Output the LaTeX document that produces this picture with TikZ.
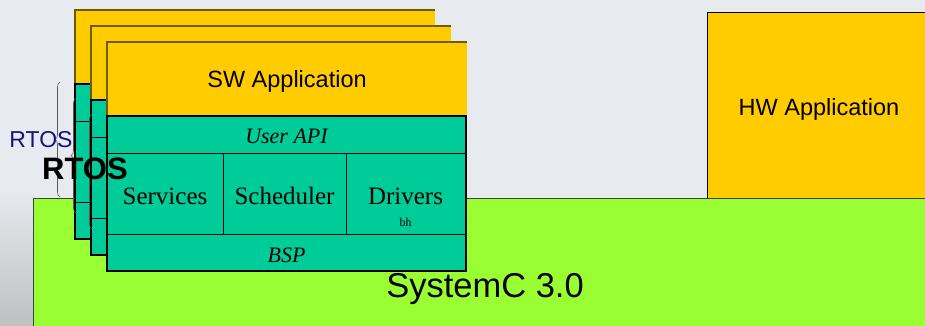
\documentclass[tikz,border=0pt]{standalone}
\usepackage{fontspec}
\setmainfont{Liberation Serif}
\setsansfont{Liberation Sans}
\usetikzlibrary{decorations.pathreplacing}

\definecolor{bgcol}{RGB}{231,234,238}
\definecolor{appyellow}{RGB}{255,204,0}
\definecolor{appedge}{RGB}{110,90,0}
\definecolor{rtosteal}{RGB}{0,204,153}
\definecolor{basegreen}{RGB}{153,255,51}
\definecolor{rtosnavy}{RGB}{20,20,120}

% one software stack: application on top of an RTOS
\newcommand\swstack[1]{%
  \begin{scope}[shift={(#1,#1)}]
    \draw[bracestyle] (92,229) -- (92,114);
    \fill[appyellow] (107,42) rectangle (467,116);
    \draw[appedge, line width=1.6] (107,116) -- (107,42) -- (467,42);
    \fill[rtosteal] (107,116) rectangle (466,271);
    \draw[line width=1] (107,153) -- (466,153) (107,234) -- (466,234)
                        (223,153) -- (223,234) (346,153) -- (346,234);
    \draw[line width=2.5] (107,116) rectangle (466,271);
  \end{scope}}

\begin{document}
\begin{tikzpicture}[x=1pt, y=-1pt,
    bracestyle/.style={decorate, decoration={brace, amplitude=5pt}, draw=black!65, line width=0.6pt},
    lbl/.style={inner sep=0pt, anchor=base},
    sanslbl/.style={lbl, font=\sffamily\fontsize{23.5}{26}\selectfont},
    seriflbl/.style={lbl, font=\rmfamily\fontsize{25}{28}\selectfont},
    italbl/.style={lbl, font=\rmfamily\itshape\fontsize{22}{25}\selectfont}]

  % backdrop
  \fill[bgcol] (0,0) rectangle (925,326);
  \useasboundingbox (0,0) rectangle (925,326);
  \shade[top color=bgcol, bottom color=gray!40!bgcol] (0,190) rectangle (33,326);

  % SystemC base layer
  \fill[basegreen] (33,198) rectangle (925,326);
  \draw[black!75, line width=0.8] (33,326) -- (33,198) -- (925,198);
  \node[lbl, font=\sffamily\fontsize{34.5}{38}\selectfont] (sysc) at (485,297) {SystemC 3.0};

  % hardware application
  \draw[fill=appyellow, line width=0.8] (707,198) -- (707,12) -- (926,12) -- (926,198);
  \node[sanslbl] (hwapp) at (819,115) {HW Application};

  % three stacked software applications, front one last
  \swstack{-32}
  \swstack{-16}
  \swstack{0}

  % labels of the front stack
  \node[sanslbl] (swapp) at (287,88) {SW Application};
  \node[italbl] (uapi) at (286.5,143) {User API};
  \node[seriflbl] (serv) at (165,204) {Services};
  \node[seriflbl] (sched) at (284.5,204) {Scheduler};
  \node[seriflbl] (drv) at (405.5,204) {Drivers};
  \node[lbl, font=\rmfamily\fontsize{12}{14}\selectfont] (bh) at (405.5,226) {bh};
  \node[italbl] (bsp) at (286.5,262) {BSP};

  % RTOS labels
  \node[lbl, font=\sffamily\fontsize{23}{26}\selectfont, text=rtosnavy] (rtosa) at (41,147) {RTOS};
  \node[lbl, font=\sffamily\bfseries\fontsize{31}{34}\selectfont] (rtosb) at (85,179) {RTOS};
\end{tikzpicture}
\end{document}
